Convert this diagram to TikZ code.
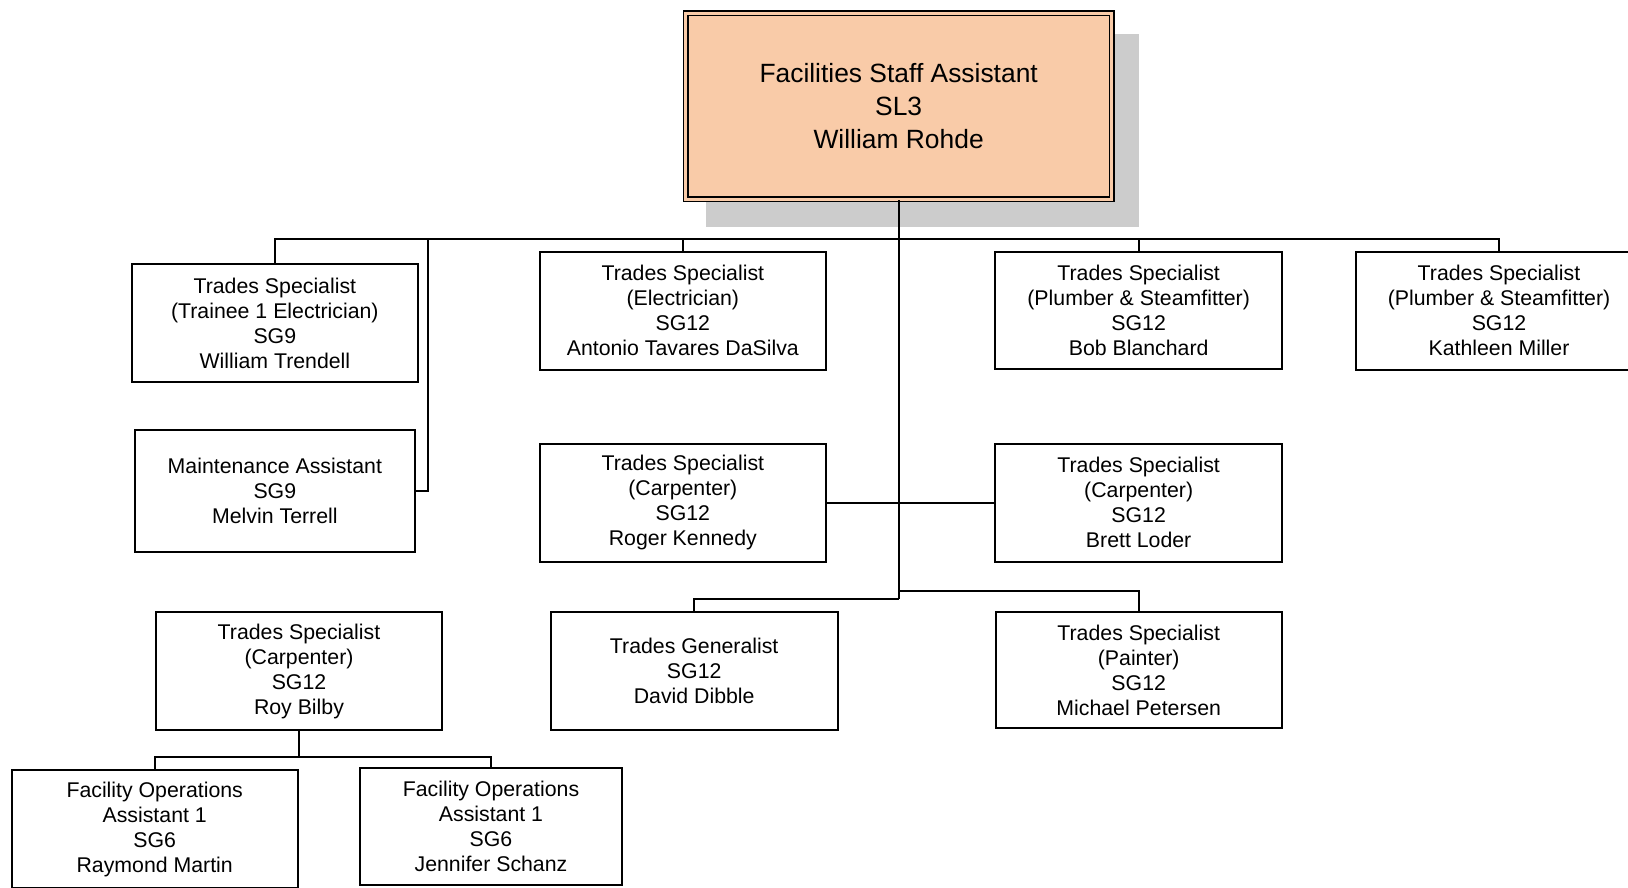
\documentclass[tikz,border=0pt]{standalone}
\usepackage{fontspec}
\setmainfont{Liberation Sans}
\definecolor{peach}{HTML}{F9CBA8}
\definecolor{shadowgray}{HTML}{CCCCCC}
\tikzset{
  orgbox/.style={draw=black, line width=2pt, inner sep=0pt, align=center,
    font=\fontsize{21.3pt}{25pt}\selectfont},
  link/.style={draw=black, line width=2pt},
}
\begin{document}
\begin{tikzpicture}[x=1pt,y=-1pt]
\clip (0,0) rectangle (1628,887);
\fill[white] (0,0) rectangle (1628,887);
% shadow of the top box
\fill[shadowgray] (706,33.5) rectangle (1139,227);
\node[draw=black, line width=1.6pt, double=peach, double distance=3pt, fill=peach,
      minimum width=426pt, minimum height=186pt, inner sep=0pt, align=center,
      font=\fontsize{26.4pt}{33pt}\selectfont] (top) at (898.65,106.35)
      {Facilities Staff Assistant\\SL3\\William Rohde};

\node[orgbox, minimum width=286.3pt, minimum height=118pt] (trainee) at (274.85,323)
  {Trades Specialist\\(Trainee 1 Electrician)\\SG9\\William Trendell};
\node[orgbox, minimum width=280.3pt, minimum height=122.6pt] (maint) at (274.85,491)
  {Maintenance Assistant\\SG9\\Melvin Terrell};
\node[orgbox, minimum width=286.3pt, minimum height=118.3pt] (elec) at (682.85,310.85)
  {Trades Specialist\\(Electrician)\\SG12\\Antonio Tavares DaSilva};
\node[orgbox, minimum width=286.3pt, minimum height=118pt] (roger) at (682.85,502.7)
  {Trades Specialist\\(Carpenter)\\SG12\\Roger Kennedy};
\node[orgbox, minimum width=286.7pt, minimum height=117.6pt] (bob) at (1138.65,310.5)
  {Trades Specialist\\(Plumber \& Steamfitter)\\SG12\\Bob Blanchard};
\node[orgbox, minimum width=286.7pt, minimum height=118pt] (brett) at (1138.65,502.7)
  {Trades Specialist\\(Carpenter)\\SG12\\Brett Loder};
\node[orgbox, minimum width=286.6pt, minimum height=117.7pt] (kath) at (1499,310.85)
  {Trades Specialist\\(Plumber \& Steamfitter)\\SG12\\Kathleen Miller};
\node[orgbox, minimum width=287pt, minimum height=118pt] (gen) at (694.2,671)
  {Trades Generalist\\SG12\\David Dibble};
\node[orgbox, minimum width=286pt, minimum height=116.3pt] (painter) at (1138.7,670.2)
  {Trades Specialist\\(Painter)\\SG12\\Michael Petersen};
\node[orgbox, minimum width=286.6pt, minimum height=118pt] (roy) at (299,671)
  {Trades Specialist\\(Carpenter)\\SG12\\Roy Bilby};
\node[orgbox, minimum width=286.2pt, minimum height=118pt] (raymond) at (154.7,829)
  {Facility Operations\\Assistant 1\\SG6\\Raymond Martin};
\node[orgbox, minimum width=262.5pt, minimum height=117.3pt] (jenn) at (491,826.3)
  {Facility Operations\\Assistant 1\\SG6\\Jennifer Schanz};

\coordinate (busy) at (0,239);
\coordinate (mainbot) at (898.65,599);
\coordinate (pj) at (898.65,590.7);
\coordinate (mj) at (427.7,239);
\coordinate (roybus) at (0,757);

\draw[link] (top.south) -- (mainbot);
\draw[link] (trainee.north) -- (trainee.north |- busy) -- (kath.north |- busy) -- (kath.north);
\draw[link] (elec.north) -- (elec.north |- busy);
\draw[link] (bob.north) -- (bob.north |- busy);
\draw[link] (maint.east) -- (maint.east -| mj) -- (mj);
\draw[link] (roger.east) -- (brett.west);
\draw[link] (gen.north) -- (gen.north |- mainbot) -- (mainbot);
\draw[link] (pj) -- (pj -| painter.north) -- (painter.north);
\draw[link] (roy.south) -- (roy.south |- roybus);
\draw[link] (raymond.north) -- (raymond.north |- roybus) -- (jenn.north |- roybus) -- (jenn.north);
\end{tikzpicture}
\end{document}
